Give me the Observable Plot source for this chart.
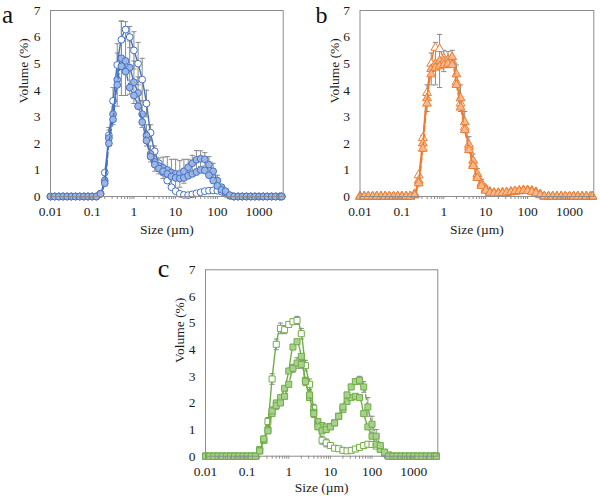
<!DOCTYPE html>
<html>
<head>
<meta charset="utf-8">
<script src="https://cdn.jsdelivr.net/npm/d3@7"></script>
<script src="https://cdn.jsdelivr.net/npm/@observablehq/plot@0.6"></script>
<style>
  body { margin: 0; background: #fff; }
  #fig { position: relative; width: 600px; height: 499px; background: #fff; overflow: hidden; }
  .panel { position: absolute; }
  .panel svg, .panel svg text {
    font-family: "Liberation Serif", "Times New Roman", Tinos, Times, serif !important;
  }
</style>
</head>
<body>
<div id="fig"></div>
<script>
// Particle size classes (µm), log-spaced
const sizes = [
  0.01, 0.0126, 0.0158, 0.02, 0.0251, 0.0316, 0.0398, 0.0501, 0.0631, 0.0794,
  0.1, 0.126, 0.158, 0.2, 0.251, 0.316, 0.398, 0.501, 0.631, 0.794,
  1, 1.26, 1.58, 2, 2.51, 3.16, 3.98, 5.01, 6.31, 7.94,
  10, 12.6, 15.8, 20, 25.1, 31.6, 39.8, 50.1, 63.1, 79.4,
  100, 126, 158, 200, 251, 316, 398, 501, 631, 794,
  1000, 1260, 1580, 2000, 2510, 3160, 3500
];

const xTicks = [0.01, 0.1, 1, 10, 100, 1000];
const xTickLabels = ["0.01", "0.1", "1", "10", "100", "1000"];
const yTicks = [0, 1, 2, 3, 4, 5, 6, 7];
const yTickLabels = ["0", "1", "2", "3", "4", "5", "6", "7"];

// Panel a — volume (%) per size class
const volA1 = [0,0,0,0,0,0,0,0,0,0,0,0,
  0.1,0.9,2.3,3.6,4.95,5.9,6.28,6.0,5.5,5.0,4.4,3.5,2.4,1.7,1.25,0.9,0.6,0.35,0.2,0.1,0.06,0.05,0.08,0.12,0.16,0.2,0.22,0.23,0.22,0.18,0.1,0.03,0,
  0,0,0,0,0,0,0,0,0,0,0,0];
const volA2 = [0,0,0,0,0,0,0,0,0,0,0,0,
  0.1,0.6,2.2,3.1,4.4,5.2,5.1,4.85,4.3,3.9,3.1,2.3,1.6,1.3,1.15,1.08,1.0,0.9,0.85,0.85,0.95,1.1,1.25,1.38,1.42,1.4,1.2,0.95,0.6,0.35,0.15,0.03,0,
  0,0,0,0,0,0,0,0,0,0,0,0];
const volA3 = [0,0,0,0,0,0,0,0,0,0,0,0,
  0.1,0.5,2.0,2.9,4.2,4.9,4.7,4.1,3.8,3.4,2.8,2.1,1.5,1.2,1.05,0.95,0.85,0.75,0.7,0.68,0.7,0.78,0.85,0.92,1.0,0.98,0.8,0.6,0.4,0.25,0.2,0.05,0,
  0,0,0,0,0,0,0,0,0,0,0,0];
const errA1 = [0,0,0,0,0,0,0,0,0,0,0,0,
  0,0,0.3,0.5,0.8,0.7,0.3,0.4,0.7,0.8,0.8,0.5,0.3,0.2,0,0,0,0,0,0,0,0,0,0,0,0,0,0,0,0,0,0,0,
  0,0,0,0,0,0,0,0,0,0,0,0];
const errA2 = [0,0,0,0,0,0,0,0,0,0,0,0,
  0,0.1,0.3,0.4,1.0,1.4,1.3,1.0,0.8,0.6,0.5,0.4,0.3,0.35,0.3,0.4,0.5,0.5,0.55,0.5,0.45,0.3,0.3,0.35,0.3,0.25,0.3,0.3,0.2,0.1,0.05,0,0,
  0,0,0,0,0,0,0,0,0,0,0,0];

// Panel b
const volB1 = [0,0,0,0,0,0,0,0,0,0,0,0,
  0,0.1,0.8,2.2,3.9,5.0,5.6,5.55,5.2,5.15,5.1,4.3,3.5,2.6,1.85,1.2,0.75,0.45,0.25,0.15,0.12,0.12,0.13,0.14,0.16,0.18,0.2,0.22,0.22,0.2,0.15,0.07,0,
  0,0,0,0,0,0,0,0,0,0,0,0];
const volB2 = [0,0,0,0,0,0,0,0,0,0,0,0,
  0,0.05,0.6,2.0,3.7,4.8,5.0,5.1,5.1,5.15,5.25,4.6,3.7,2.8,1.95,1.35,0.85,0.5,0.3,0.18,0.14,0.14,0.15,0.16,0.18,0.2,0.22,0.24,0.24,0.22,0.17,0.08,0,
  0,0,0,0,0,0,0,0,0,0,0,0];
const volB3 = [0,0,0,0,0,0,0,0,0,0,0,0,
  0,0.05,0.5,1.8,3.5,4.6,4.85,4.9,4.95,5.0,4.95,4.2,3.35,2.5,1.75,1.15,0.7,0.4,0.22,0.14,0.12,0.12,0.13,0.15,0.17,0.2,0.21,0.22,0.21,0.18,0.12,0.05,0,
  0,0,0,0,0,0,0,0,0,0,0,0];
const errB2 = [0,0,0,0,0,0,0,0,0,0,0,0,
  0,0.05,0.2,0.3,0.5,0.6,0.8,1.0,0.4,0.3,0.25,0.35,0.5,0.4,0.3,0.25,0.2,0.15,0.1,0.05,0.05,0.05,0.05,0.05,0.05,0.05,0.05,0.05,0.05,0.05,0,0,0,
  0,0,0,0,0,0,0,0,0,0,0,0];

// Panel c
const volC1 = [0,0,0,0,0,0,0,0,0,0,0,0,
  0,0.25,0.6,1.3,2.9,4.2,4.8,4.75,4.95,5.05,5.1,4.6,3.4,2.7,1.8,1.2,0.6,0.5,0.4,0.3,0.28,0.22,0.2,0.22,0.27,0.33,0.4,0.45,0.44,0.38,0.28,0.15,0.05,
  0,0,0,0,0,0,0,0,0,0,0,0];
const volC2 = [0,0,0,0,0,0,0,0,0,0,0,0,
  0,0.2,0.6,1.0,1.6,2.0,2.2,2.55,3.2,4.1,4.3,3.75,2.85,2.2,1.65,1.3,1.15,1.1,1.12,1.25,1.5,1.75,2.05,2.2,2.25,2.2,1.6,1.1,0.75,0.45,0.25,0.1,0,
  0,0,0,0,0,0,0,0,0,0,0,0];
const volC3 = [0,0,0,0,0,0,0,0,0,0,0,0,
  0,0.2,0.65,0.95,1.7,1.9,2.0,2.25,2.7,3.3,3.5,3.45,2.8,2.3,1.6,1.1,0.95,1.0,1.1,1.25,1.5,1.85,2.3,2.6,2.8,2.85,2.6,1.85,1.2,0.75,0.4,0.15,0,
  0,0,0,0,0,0,0,0,0,0,0,0];
const errC1 = [0,0,0,0,0,0,0,0,0,0,0,0,
  0,0.05,0.1,0.15,0.2,0.2,0.2,0.15,0.1,0.1,0.15,0.2,0.2,0.2,0.15,0.1,0.15,0.15,0.1,0.05,0.05,0.05,0.05,0.05,0.05,0.05,0.05,0.05,0.05,0.05,0,0,0,
  0,0,0,0,0,0,0,0,0,0,0,0];
const errC3 = [0,0,0,0,0,0,0,0,0,0,0,0,
  0,0.05,0.1,0.1,0.15,0.15,0.1,0.1,0.1,0.15,0.2,0.15,0.15,0.2,0.15,0.1,0.1,0.1,0.1,0.1,0.1,0.1,0.1,0.1,0.1,0.15,0.2,0.35,0.3,0.25,0.1,0,0,
  0,0,0,0,0,0,0,0,0,0,0,0];

const FONT = '"Liberation Serif", "Times New Roman", Tinos, Times, serif';
const AXIS_GRAY = "#8c8c8c";
const ERR_GRAY = "#8a8a8a";
const TEXT = "#1a1a1a";

// Minor ticks 2–9 within each decade of the log axis
const minorTicks = xTicks.flatMap(d => [2, 3, 4, 5, 6, 7, 8, 9].map(k => +(k * d).toPrecision(3))).filter(v => v < 3800);

// Horizontal cap for error bars
const cap = {
  draw(context) {
    context.moveTo(-2.6, 0);
    context.lineTo(2.6, 0);
  }
};

const panels = [
  {
    tag: "a", left: 0, top: 0, width: 300, height: 245,
    margin: {top: 10, right: 17.3, bottom: 49, left: 50},
    color: "#4472C4", tint: "#9DB5E2", symbol: "circle", r: 3.4,
    series: [
      {values: volA1, err: errA1, open: true},
      {values: volA2, err: errA2, open: false},
      {values: volA3, err: null, open: false, dash: "5,3"}
    ],
    tagPos: {dx: -48.5, dy: 12.5, size: 25},
    xTitleDy: 37, yTitleDx: 23
  },
  {
    tag: "b", left: 300, top: 0, width: 300, height: 245,
    margin: {top: 10, right: 6.7, bottom: 49, left: 59.5},
    color: "#ED7D31", tint: "#F6B98E", symbol: "triangle", r: 3.3,
    series: [
      {values: volB1, err: null, open: true},
      {values: volB2, err: errB2, open: false},
      {values: volB3, err: null, open: false, dash: "5,3"}
    ],
    tagPos: {dx: -44.5, dy: 12.7, size: 24},
    xTitleDy: 37, yTitleDx: 21
  },
  {
    tag: "c", left: 150, top: 250, width: 300, height: 249,
    margin: {top: 19.3, right: 12.7, bottom: 43.3, left: 55},
    color: "#70AD47", tint: "#A9D18E", symbol: "square", r: 3.4,
    series: [
      {values: volC1, err: errC1, open: true},
      {values: volC2, err: null, open: false},
      {values: volC3, err: errC3, open: false, dash: "5,3"}
    ],
    tagPos: {dx: -47.7, dy: 6.7, size: 26},
    xTitleDy: 36, yTitleDx: 22
  }
];

const fig = document.getElementById("fig");

for (const p of panels) {
  const marks = [];

  // error bars
  for (const s of p.series) {
    if (!s.err) continue;
    const rows = sizes
      .map((x, i) => ({size: x, lo: Math.max(0, s.values[i] - s.err[i]), hi: s.values[i] + s.err[i], e: s.err[i]}))
      .filter(d => d.e > 0);
    marks.push(Plot.ruleX(rows, {x: "size", y1: "lo", y2: "hi", stroke: ERR_GRAY, strokeWidth: 1}));
    marks.push(Plot.dot(rows, {x: "size", y: "hi", symbol: cap, r: 2, stroke: ERR_GRAY, fill: "none", strokeWidth: 1}));
    marks.push(Plot.dot(rows.filter(d => d.lo > 0), {x: "size", y: "lo", symbol: cap, r: 2, stroke: ERR_GRAY, fill: "none", strokeWidth: 1}));
  }

  // series lines and markers
  for (const s of p.series) {
    const rows = sizes.map((x, i) => ({size: x, vol: s.values[i]}));
    marks.push(Plot.line(rows, {
      x: "size", y: "vol", stroke: p.color, strokeWidth: 1.4,
      curve: "catmull-rom", strokeDasharray: s.dash ?? null
    }));
    marks.push(Plot.dot(rows, {
      x: "size", y: "vol", symbol: p.symbol, r: p.r,
      stroke: p.color, strokeWidth: 1, fill: s.open ? "#ffffff" : p.tint
    }));
  }

  marks.push(Plot.frame({stroke: AXIS_GRAY, strokeWidth: 1}));

  // axes
  marks.push(Plot.axisX({ticks: minorTicks, tickSize: 3, tickFormat: () => "", label: null, stroke: AXIS_GRAY}));
  marks.push(Plot.axisX({
    ticks: xTicks, tickSize: 3, tickPadding: 7, label: null,
    tickFormat: d => xTickLabels[xTicks.indexOf(d)], stroke: AXIS_GRAY, fill: TEXT
  }));
  marks.push(Plot.axisY({
    ticks: yTicks, tickSize: 0, tickPadding: 10, label: null,
    tickFormat: d => yTickLabels[yTicks.indexOf(d)], fill: TEXT
  }));

  // axis titles and panel letter
  marks.push(Plot.text(["Size (µm)"], {frameAnchor: "bottom", dy: p.xTitleDy, lineAnchor: "bottom", fill: TEXT, fontSize: 13.5}));
  marks.push(Plot.text(["Volume (%)"], {frameAnchor: "left", dx: -p.yTitleDx, rotate: -90, lineAnchor: "bottom", fill: TEXT, fontSize: 13.5}));
  marks.push(Plot.text([p.tag], {
    frameAnchor: "top-left", dx: p.tagPos.dx, dy: p.tagPos.dy,
    textAnchor: "start", lineAnchor: "bottom", fill: "#111", fontSize: p.tagPos.size
  }));

  const chart = Plot.plot({
    width: p.width,
    height: p.height,
    marginTop: p.margin.top,
    marginRight: p.margin.right,
    marginBottom: p.margin.bottom,
    marginLeft: p.margin.left,
    style: {fontFamily: FONT, fontSize: "13.5px", color: TEXT, background: "transparent"},
    x: {type: "log", domain: [0.01, 3800], label: null},
    y: {domain: [0, 7], label: null},
    marks
  });

  const holder = document.createElement("div");
  holder.className = "panel";
  holder.style.left = p.left + "px";
  holder.style.top = p.top + "px";
  holder.appendChild(chart);
  fig.appendChild(holder);
}
</script>
</body>
</html>
